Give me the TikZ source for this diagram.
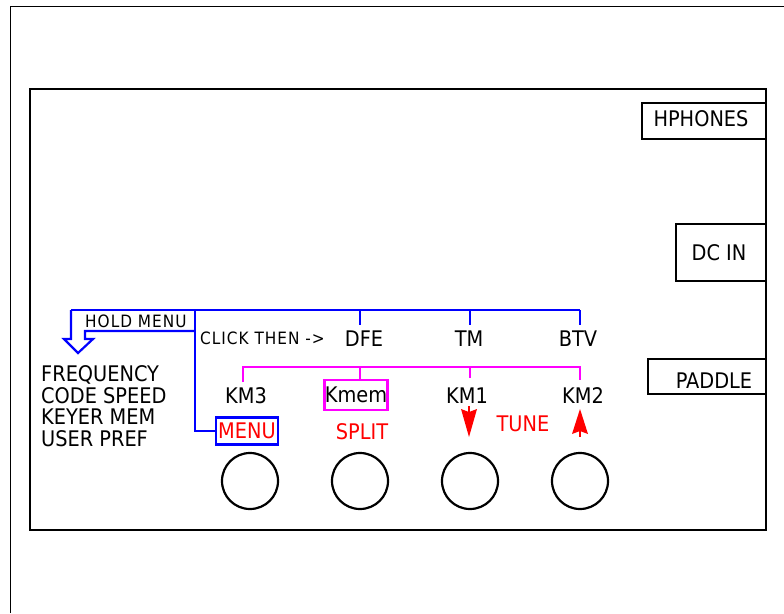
\documentclass[tikz,border=0pt]{standalone}
\usepackage{fontspec}
\setmainfont{DejaVu Sans Condensed}
\definecolor{bl}{RGB}{0,0,255}
\definecolor{mg}{RGB}{255,0,255}
\definecolor{rd}{RGB}{255,0,0}
\begin{document}
\begin{tikzpicture}[x=1pt,y=-1pt,
  lbl/.style={inner sep=0pt,font=\fontsize{21.5}{21.5}\selectfont},
  slbl/.style={inner sep=0pt,font=\fontsize{17}{17}\selectfont\addfontfeature{LetterSpace=6}},
  bwire/.style={draw=bl,line width=2.2pt},
  mwire/.style={draw=mg,line width=2.2pt},
  jack/.style={draw,line width=2.2pt,inner sep=0pt},
  knob/.style={draw,line width=2.2pt,circle,minimum size=56pt,inner sep=0pt}]
\useasboundingbox (0,0) rectangle (784,613);
% outer frame
\draw[line width=1pt] (10,613) -- (10,6) -- (784,6);
% panel
\draw[line width=2.2pt] (30,89) rectangle (766,530);
% jacks
\draw[jack] (642,103) rectangle (766,139);
\node[lbl] (hp) at (701,119) {HPHONES};
\draw[jack] (676,224) rectangle (766,281);
\node[lbl] (dc) at (719,253) {DC IN};
\draw[jack] (648,359) rectangle (766,394);
\node[lbl] (pd) at (714,381) {PADDLE};
% knobs
\node[knob] (k1) at (250,481) {};
\node[knob] (k2) at (360,481) {};
\node[knob] (k3) at (470,481) {};
\node[knob] (k4) at (580,481) {};
% left list
\node[lbl,anchor=west,align=left] (list) at (41,406)
  {\fontsize{21.5}{21}\selectfont FREQUENCY\\CODE SPEED\\KEYER MEM\\USER PREF};
% blue labels
\node[slbl,anchor=west] (hold) at (85,321) {HOLD MENU};
\node[slbl,anchor=west] (click) at (200,338) {CLICK THEN ->};
\node[lbl] (dfe) at (364,339) {DFE};
\node[lbl] (tm) at (469,339) {TM};
\node[lbl] (btv) at (578,339) {BTV};
\node[lbl,draw=bl,line width=2.2pt,text=rd,minimum width=62pt,minimum height=27pt] (menu) at (247,431) {MENU};
% blue tree
\coordinate (ja) at (71,310);
\coordinate (jb) at (195,310);
\coordinate (jc) at (360,310);
\coordinate (jd) at (470,310);
\coordinate (je) at (580,310);
\draw[bwire] (ja) -- (je);
\draw[bwire] (jc) -- (360,325);
\draw[bwire] (jd) -- (470,325);
\draw[bwire] (je) -- (580,325);
\draw[bwire] (jb) |- (menu.west);
% hollow arrow
\draw[bwire,line join=miter] (ja) -- (71,339) -- (64,339) -- (78,353) -- (93,339) -- (85,339) -- (85,331) -- (195,331);
% magenta labels
\node[lbl] (km3) at (246,396) {KM3};
\node[lbl,draw=mg,line width=2.2pt,minimum width=63pt,minimum height=30pt] (kmem) at (356,395) {Kmem};
\node[lbl] (km1) at (467,396) {KM1};
\node[lbl] (km2) at (583,396) {KM2};
% magenta tree
\coordinate (ma) at (243,367);
\coordinate (mb) at (360,367);
\coordinate (mc) at (470,367);
\coordinate (md) at (580,367);
\draw[mwire] (243,382) -- (ma) -- (md) -- (580,380);
\draw[mwire] (mb) -- (kmem.north -| mb);
\draw[mwire] (mc) -- (470,378);
% red labels
\node[lbl,text=rd] (split) at (362,432) {SPLIT};
\node[lbl,text=rd] (tune) at (523,424) {TUNE};
% red arrows
\fill[rd] (461,409) -- (469,412) -- (477,409) -- (469,437) -- cycle;
\draw[rd,line width=2pt] (469,406) -- (469,413);
\fill[rd] (572,434) -- (580,431) -- (588,434) -- (580,409) -- cycle;
\draw[rd,line width=2pt] (580,430) -- (580,437);
\end{tikzpicture}
\end{document}
